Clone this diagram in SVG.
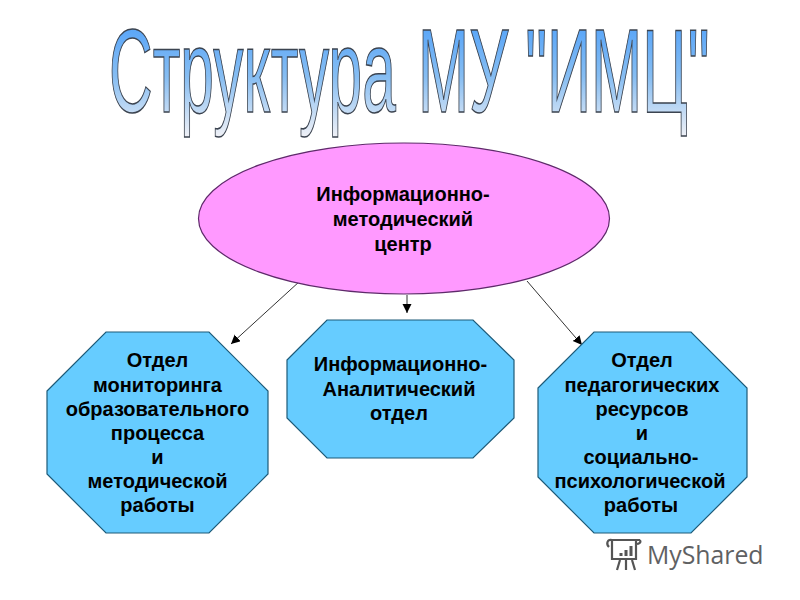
<svg xmlns="http://www.w3.org/2000/svg" width="800" height="600" viewBox="0 0 800 600">
<style>
.t{font-family:"Liberation Sans",Arial,sans-serif;font-weight:bold;fill:#000;text-anchor:middle;font-size:20px}
.title{font-family:"Liberation Sans",Arial,sans-serif;font-size:119px;fill:url(#g);stroke:#3c4450;stroke-width:1.2;vector-effect:non-scaling-stroke}
.oct{fill:#66ccff;stroke:#1d5a78;stroke-width:1.2}
.c{stroke:#333;stroke-width:1;fill:none;marker-end:url(#a)}
</style>
<defs>
<linearGradient id="g" gradientUnits="userSpaceOnUse" x1="0" y1="28" x2="0" y2="136">
<stop offset="0" stop-color="#5aa6f8"/><stop offset="0.45" stop-color="#86bdf2"/><stop offset="1" stop-color="#eef0f6"/>
</linearGradient>
<marker id="a" markerUnits="userSpaceOnUse" markerWidth="10" markerHeight="10" refX="9" refY="4.5" orient="auto">
<path d="M0,0L9,4.5L0,9Z" fill="#000"/>
</marker>
</defs>
<rect width="800" height="600" fill="#fff"/>
<g id="title">
<text class="title" y="112" transform="translate(109,0) scale(0.508,1)">Структура</text>
<text class="title" y="112" transform="translate(418,0) scale(0.516,1)">МУ "ИМЦ"</text>
</g>
<g id="connectors">
<line class="c" x1="300" y1="281" x2="231" y2="344"/>
<line class="c" x1="407" y1="295" x2="407" y2="313"/>
<line class="c" x1="527" y1="281" x2="582" y2="345"/>
</g>
<g id="center">
<ellipse cx="404" cy="218.500" rx="205.500" ry="75.500" fill="#ff99ff" stroke="#5e2a6a" stroke-width="1.2"/>
<text class="t" x="403" y="201">Информационно-</text>
<text class="t" x="403" y="226">методический</text>
<text class="t" x="403" y="251">центр</text>
</g>
<g id="left">
<polygon class="oct" points="47,391 106,332 209,332 268,391 268,474 209,533 106,533 47,474"/>
<text class="t" x="157.500" y="367">Отдел</text>
<text class="t" x="157.500" y="392">мониторинга</text>
<text class="t" x="157.500" y="416">образовательного</text>
<text class="t" x="157.500" y="440">процесса</text>
<text class="t" x="157.500" y="464">и</text>
<text class="t" x="157.500" y="488">методической</text>
<text class="t" x="157.500" y="512">работы</text>
</g>
<g id="middle">
<polygon class="oct" points="287,360 327,320 473,320 514,360 514,418 473,458 327,458 287,418"/>
<text class="t" x="400.500" y="371">Информационно-</text>
<text class="t" x="399" y="396">Аналитический</text>
<text class="t" x="399" y="420">отдел</text>
</g>
<g id="right">
<polygon class="oct" points="538,388 594,332 691,332 747,388 747,477 691,533 594,533 538,477"/>
<text class="t" x="642" y="367">Отдел</text>
<text class="t" x="642" y="392">педагогических</text>
<text class="t" x="642" y="416">ресурсов</text>
<text class="t" x="642" y="440">и</text>
<text class="t" x="641" y="464">социально-</text>
<text class="t" x="640" y="488">психологической</text>
<text class="t" x="641" y="512">работы</text>
</g>
<g id="logo" fill="none" stroke="#555" stroke-width="2.200">
<path d="M612,540H640M612,540C607,539 606,544 609,547M612,540V559H636V541M640,540C641,542 640,544 636,544"/>
<path d="M621,556V553M626,556V550M631,556V546" stroke-width="3"/>
<path d="M620,560L617,570M626,560V570M632,560L635,570"/>
<text x="647" y="564" font-family="'Open Sans','Noto Sans',sans-serif" font-size="24.800" fill="#5f6163" stroke="none">MyShared</text>
</g>
</svg>
